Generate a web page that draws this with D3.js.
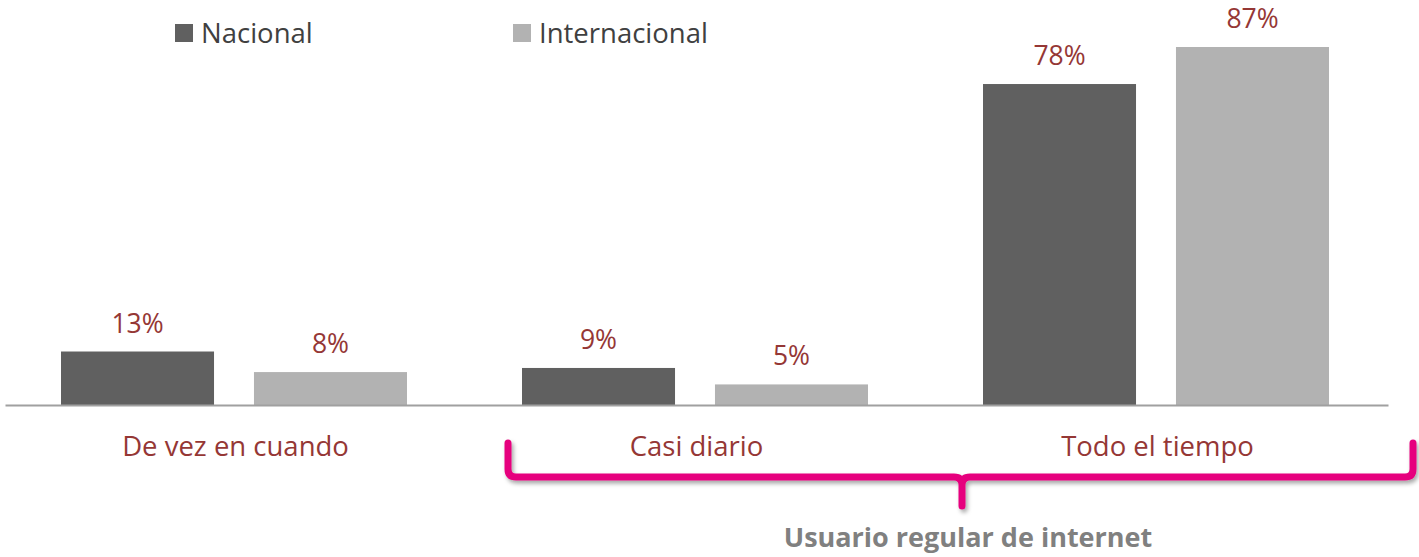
<!DOCTYPE html>
<html><head><meta charset="utf-8">
<script src="https://cdn.jsdelivr.net/npm/d3@7"></script>
<style>body{margin:0;background:#fff;}svg{display:block;}</style>
</head><body>
<svg id="c" width="1419" height="557"></svg>
<script>
const categories = ["De vez en cuando", "Casi diario", "Todo el tiempo"];
const seriesNames = ["Nacional", "Internacional"];
const nacional = [13, 9, 78];
const internacional = [8, 5, 87];
const seriesColors = ["#606060", "#b2b2b2"];

const svg = d3.select("#c");
const font = "'Open Sans', 'Noto Sans', sans-serif";
const baseY = 405, left = 5, right = 1388;

const x0 = d3.scaleBand().domain(categories).range([left, right]).padding(0);
const x1 = d3.scaleBand().domain(seriesNames).range([56, 402]).paddingInner(0.207);
const y = d3.scaleLinear().domain([0, 100]).range([baseY, baseY - 411.5]);

const data = categories.map((c, i) => ({cat: c, vals: [nacional[i], internacional[i]]}));

const g = svg.append("g");
data.forEach(d => {
  d.vals.forEach((v, j) => {
    const bx = x0(d.cat) + x1(seriesNames[j]);
    g.append("rect").attr("x", bx).attr("y", y(v)).attr("width", x1.bandwidth())
      .attr("height", baseY - y(v)).attr("fill", seriesColors[j]);
    g.append("text").attr("x", bx + x1.bandwidth() / 2).attr("y", y(v) - 19)
      .attr("text-anchor", "middle").attr("font-family", font).attr("font-size", 26.5)
      .attr("fill", "#953735").text(v + "%");
  });
});

// axis
const xAxis = d3.axisBottom(x0).tickSize(0).tickPadding(0);
const ax = svg.append("g").attr("transform", `translate(0,${baseY})`).call(xAxis);
ax.select(".domain").attr("stroke", "#a0a0a0").attr("stroke-width", 2);
ax.selectAll("text").attr("font-family", font).attr("font-size", 27.5).attr("fill", "#953735")
  .attr("dy", 0).attr("y", 51);

// legend
const legX = [175, 513];
seriesNames.forEach((s, j) => {
  svg.append("rect").attr("x", legX[j]).attr("y", 24).attr("width", 18).attr("height", 18).attr("fill", seriesColors[j]);
  svg.append("text").attr("x", legX[j] + 26).attr("y", 43).attr("font-family", font).attr("font-size", 27.5)
    .attr("fill", "#404040").text(s);
});

// bracket
const defs = svg.append("defs");
const f = defs.append("filter").attr("id", "sh").attr("x", "-5%").attr("y", "-50%").attr("width", "110%").attr("height", "200%");
f.append("feDropShadow").attr("dx", 2).attr("dy", 3).attr("stdDeviation", 2).attr("flood-color", "#000").attr("flood-opacity", 0.35);
const bx0 = 508, bx1 = 1413, by = 477, btop = 443, mid = 962, r = 8;
const p = `M${bx0},${btop} L${bx0},${by - r} Q${bx0},${by} ${bx0 + r},${by} L${mid - r},${by} Q${mid},${by} ${mid},${by + r} L${mid},${506} M${mid},${by + r} Q${mid},${by} ${mid + r},${by} L${bx1 - r},${by} Q${bx1},${by} ${bx1},${by - r} L${bx1},${btop}`;
svg.append("path").attr("d", p).attr("fill", "none").attr("stroke", "#e6007e").attr("stroke-width", 7)
  .attr("stroke-linecap", "round").attr("stroke-linejoin", "round").attr("filter", "url(#sh)");

svg.append("text").attr("x", 968).attr("y", 547).attr("text-anchor", "middle").attr("font-family", font)
  .attr("font-size", 27).attr("font-weight", "bold").attr("fill", "#808080").text("Usuario regular de internet");
</script>
</body></html>
